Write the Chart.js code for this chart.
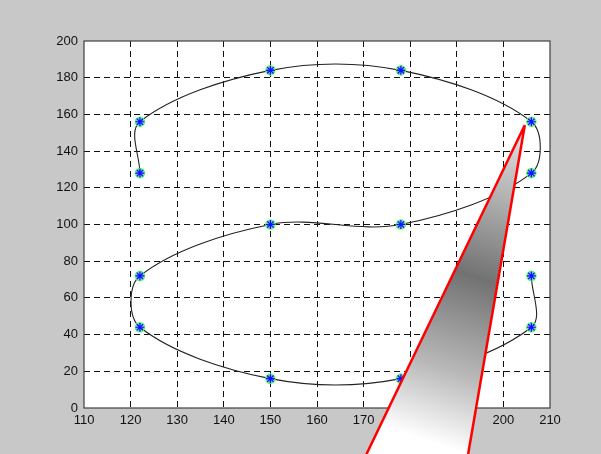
<!DOCTYPE html>
<html>
<head>
<meta charset="utf-8">
<script src="https://cdn.jsdelivr.net/npm/chart.js@4"></script>
<style>
  html, body { margin: 0; padding: 0; background: #c8c8c8; }
  #wrap { width: 601px; height: 454px; position: relative; }
</style>
</head>
<body>
<div id="wrap"><canvas id="c"></canvas></div>
<script>
// ---- data ----
const pathX = [122, 122, 150, 178, 206, 206, 178, 150, 122, 122, 150, 178, 206, 206];
const pathY = [128, 156, 184, 184, 156, 128, 100, 100, 72, 44, 16, 16, 44, 72];
const pointerX = [204.6, 169.7, 192.1, 204.6];
const pointerY = [154.2, -30, -30, 154.2];
const xTicks = [110, 120, 130, 140, 150, 160, 170, 180, 190, 200, 210];
const yTicks = [0, 20, 40, 60, 80, 100, 120, 140, 160, 180, 200];

const toPts = (xs, ys) => xs.map((x, i) => ({ x: x, y: ys[i] }));

const areaPlugin = {
  id: 'areaPlugin',
  beforeDraw(chart) {
    const a = chart.chartArea, ctx = chart.ctx;
    ctx.save();
    ctx.fillStyle = '#ffffff';
    ctx.fillRect(a.left, a.top, a.right - a.left, a.bottom - a.top);
    ctx.restore();
  },
  beforeDatasetsDraw(chart) {
    const a = chart.chartArea, ctx = chart.ctx;
    ctx.save();
    ctx.strokeStyle = '#404040';
    ctx.lineWidth = 1.2;
    ctx.strokeRect(a.left, a.top, a.right - a.left, a.bottom - a.top);
    ctx.restore();
  },
  beforeDatasetDraw(chart, args) {
    if (args.index !== 0) return;
    const pts = args.meta.data;
    if (!pts.length) return;
    const ctx = chart.ctx;
    const tip = pts[0];
    const mx = (pts[1].x + pts[2].x) / 2, my = (pts[1].y + pts[2].y) / 2;
    const g = ctx.createLinearGradient(tip.x, tip.y, mx, my);
    g.addColorStop(0, '#e6e6e6');
    g.addColorStop(0.22, '#b0b0b0');
    g.addColorStop(0.45, '#727272');
    g.addColorStop(0.72, '#b8b8b8');
    g.addColorStop(0.93, '#ffffff');
    g.addColorStop(1, '#ffffff');
    ctx.save();
    ctx.beginPath();
    ctx.moveTo(pts[0].x, pts[0].y);
    for (let i = 1; i < pts.length; i++) ctx.lineTo(pts[i].x, pts[i].y);
    ctx.closePath();
    ctx.fillStyle = g;
    ctx.fill();
    ctx.restore();
  }
};

const gridColor = (ctx, lo, hi) =>
  (ctx.tick && (ctx.tick.value === lo || ctx.tick.value === hi)) ? 'rgba(0,0,0,0)' : '#111111';

new Chart(document.getElementById('c'), {
  type: 'scatter',
  data: {
    datasets: [
      {
        label: 'pointer',
        data: toPts(pointerX, pointerY),
        showLine: true,
        tension: 0,
        borderColor: '#ff0000',
        borderWidth: 2.5,
        pointRadius: 0,
        fill: false,
        clip: false,
        order: 0
      },
      {
        label: 'stars',
        data: toPts(pathX, pathY),
        showLine: false,
        pointStyle: 'star',
        pointRadius: 4.5,
        borderColor: '#1010ff',
        borderWidth: 1.2,
        backgroundColor: '#1010ff',
        order: 1
      },
      {
        label: 'circles',
        data: toPts(pathX, pathY),
        showLine: false,
        pointStyle: 'circle',
        pointRadius: 4.5,
        borderColor: '#5cff5c',
        borderWidth: 1.6,
        backgroundColor: 'rgba(40,120,255,0.6)',
        order: 2
      },
      {
        label: 'curve',
        data: toPts(pathX, pathY),
        showLine: true,
        tension: 0.34,
        borderColor: '#222222',
        borderWidth: 1.1,
        pointRadius: 0,
        fill: false,
        order: 3
      }
    ]
  },
  options: {
    responsive: true,
    maintainAspectRatio: false,
    animation: false,
    events: [],
    layout: { padding: { top: 41, right: 51, left: 0, bottom: 0 } },
    plugins: { legend: { display: false }, tooltip: { enabled: false } },
    scales: {
      x: {
        type: 'linear',
        min: 110, max: 210,
        afterFit(s) { s.height = 46; },
        afterBuildTicks(s) { s.ticks = xTicks.map(v => ({ value: v })); },
        border: { display: false, dash: [6, 4] },
        grid: { color: c => gridColor(c, 110, 210), lineWidth: 1, drawTicks: false },
        ticks: {
          padding: 5,
          color: '#111111',
          maxRotation: 0,
          autoSkip: false,
          font: { family: 'Liberation Sans', size: 13 }
        }
      },
      y: {
        type: 'linear',
        min: 0, max: 200,
        afterFit(s) { s.width = 84; },
        afterBuildTicks(s) { s.ticks = yTicks.map(v => ({ value: v })); },
        border: { display: false, dash: [6, 4] },
        grid: { color: c => gridColor(c, 0, 200), lineWidth: 1, drawTicks: false },
        ticks: {
          padding: 6,
          color: '#111111',
          autoSkip: false,
          font: { family: 'Liberation Sans', size: 13 }
        }
      }
    }
  },
  plugins: [areaPlugin]
});
</script>
</body>
</html>
